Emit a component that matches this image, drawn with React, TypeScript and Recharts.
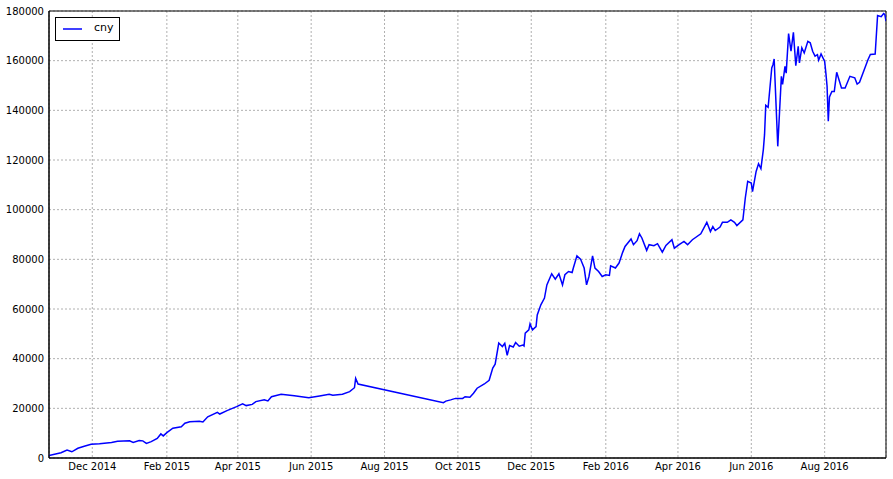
import React from 'react';
import { LineChart, Line, XAxis, YAxis, CartesianGrid, Legend, ReferenceArea } from 'recharts';

const dates = [
  '2014-10-26', '2014-11-05', '2014-11-10', '2014-11-14', '2014-11-19', '2014-11-25', '2014-11-30',
  '2014-12-07', '2014-12-17', '2014-12-22', '2015-01-01', '2015-01-04', '2015-01-09', '2015-01-12',
  '2015-01-15', '2015-01-19', '2015-01-24', '2015-01-27', '2015-01-29', '2015-02-01', '2015-02-06',
  '2015-02-13', '2015-02-16', '2015-02-20', '2015-02-28', '2015-03-03', '2015-03-07', '2015-03-15',
  '2015-03-17', '2015-03-23', '2015-03-31', '2015-04-05', '2015-04-08', '2015-04-13', '2015-04-16',
  '2015-04-23', '2015-04-26', '2015-04-29', '2015-05-07', '2015-05-18', '2015-05-30', '2015-06-08',
  '2015-06-16', '2015-06-19', '2015-06-27', '2015-07-03', '2015-07-07', '2015-07-08', '2015-07-10',
  '2015-09-19', '2015-09-21', '2015-09-25', '2015-09-29', '2015-10-05', '2015-10-07', '2015-10-11',
  '2015-10-14', '2015-10-17', '2015-10-23', '2015-10-27', '2015-10-30', '2015-11-01', '2015-11-04',
  '2015-11-07', '2015-11-09', '2015-11-11', '2015-11-13', '2015-11-16', '2015-11-18', '2015-11-21',
  '2015-11-24', '2015-11-25', '2015-11-26', '2015-11-29', '2015-11-30', '2015-12-02', '2015-12-05',
  '2015-12-06', '2015-12-09', '2015-12-12', '2015-12-14', '2015-12-18', '2015-12-21', '2015-12-24',
  '2015-12-27', '2015-12-29', '2016-01-01', '2016-01-04', '2016-01-05', '2016-01-08', '2016-01-11',
  '2016-01-14', '2016-01-16', '2016-01-18', '2016-01-21', '2016-01-23', '2016-01-26', '2016-01-29',
  '2016-02-01', '2016-02-04', '2016-02-05', '2016-02-09', '2016-02-12', '2016-02-15', '2016-02-17',
  '2016-02-22', '2016-02-24', '2016-02-27', '2016-02-29', '2016-03-02', '2016-03-06', '2016-03-08',
  '2016-03-12', '2016-03-15', '2016-03-19', '2016-03-22', '2016-03-27', '2016-03-29', '2016-04-02',
  '2016-04-06', '2016-04-09', '2016-04-13', '2016-04-20', '2016-04-25', '2016-04-28', '2016-04-30',
  '2016-05-02', '2016-05-06', '2016-05-08', '2016-05-12', '2016-05-15', '2016-05-18', '2016-05-20',
  '2016-05-25', '2016-05-27', '2016-05-29', '2016-06-01', '2016-06-02', '2016-06-05', '2016-06-07',
  '2016-06-09', '2016-06-11', '2016-06-12', '2016-06-13', '2016-06-15', '2016-06-18', '2016-06-19',
  '2016-06-20', '2016-06-23', '2016-06-26', '2016-06-27', '2016-06-29', '2016-06-30', '2016-07-02',
  '2016-07-04', '2016-07-06', '2016-07-08', '2016-07-10', '2016-07-11', '2016-07-13', '2016-07-15',
  '2016-07-18', '2016-07-20', '2016-07-22', '2016-07-24', '2016-07-26', '2016-07-27', '2016-07-29',
  '2016-08-01', '2016-08-02', '2016-08-03', '2016-08-04', '2016-08-05', '2016-08-07', '2016-08-09',
  '2016-08-11', '2016-08-15', '2016-08-18', '2016-08-22', '2016-08-26', '2016-08-28', '2016-08-30',
  '2016-09-06', '2016-09-08', '2016-09-12', '2016-09-14', '2016-09-17', '2016-09-19', '2016-09-20',
  '2016-09-21',
];

const cny = [
  1000, 2100, 3200, 2500, 3900, 4800, 5500,
  5700, 6200, 6700, 6900, 6300, 7000, 6900,
  5900, 6600, 7900, 9700, 8900, 10200, 12000,
  12600, 14000, 14600, 14800, 14500, 16600, 18400,
  17700, 19100, 20700, 21800, 21100, 21600, 22700,
  23400, 23000, 24700, 25700, 25100, 24300, 25000,
  25700, 25300, 25700, 26700, 28300, 32100, 29800,
  22300, 22900, 23400, 24000, 24000, 24700, 24500,
  26100, 28100, 29800, 31300, 36200, 37800, 46300,
  44900, 46200, 41300, 45300, 44700, 46500, 45000,
  45500, 45100, 50300, 51600, 54000, 51600, 52900,
  57600, 61700, 64400, 69700, 74200, 72000, 74200,
  69700, 73800, 75100, 74700, 76500, 81400, 80100,
  76500, 69700, 73100, 81400, 76500, 75100, 73100,
  73800, 73500, 77400, 76500, 78500, 82800, 85200,
  88200, 85900, 87500, 90300, 88600, 83600, 85900,
  85500, 86300, 82900, 85600, 87900, 84500, 85900,
  87200, 85900, 87900, 90300, 94900, 91200, 93200,
  91600, 93000, 94900, 94900, 95900, 94900, 93600,
  95900, 104700, 111400, 110700, 107300, 115400, 118500,
  116500, 124200, 130200, 142000, 141200, 157100, 158400,
  160700, 125500, 153700, 150400, 157700, 155000, 170900,
  163800, 171400, 158000, 165800, 159100, 165200, 163100,
  167800, 167200, 163800, 161800, 162400, 160200, 162700,
  159700, 155000, 149700, 135600, 145400, 147600, 147600,
  155300, 149000, 149000, 153700, 153100, 150600, 151300,
  160400, 162500, 162700, 178200, 177700, 179000, 178600,
  175900,
];

const yTicks = [0, 20000, 40000, 60000, 80000, 100000, 120000, 140000, 160000, 180000];
const xTickDates = [
  '2014-12-01', '2015-02-01', '2015-04-01', '2015-06-01', '2015-08-01', '2015-10-01',
  '2015-12-01', '2016-02-01', '2016-04-01', '2016-06-01', '2016-08-01',
];
const monthNames = ['Jan', 'Feb', 'Mar', 'Apr', 'May', 'Jun', 'Jul', 'Aug', 'Sep', 'Oct', 'Nov', 'Dec'];
const seriesName = 'cny';

const toTs = (s: string) => Date.parse(s + 'T00:00:00Z');
const data = dates.map((d, i) => ({ t: toTs(d), cny: cny[i] }));
const xTicks = xTickDates.map(toTs);
const xMin = toTs(dates[0]);
const xMax = toTs(dates[dates.length - 1]);
const fmtDate = (v: number) => {
  const d = new Date(v);
  return `${monthNames[d.getUTCMonth()]} ${d.getUTCFullYear()}`;
};

const FONT = '"DejaVu Sans", "Bitstream Vera Sans", sans-serif';

const LegendBox = () => (
  <div
    style={{
      width: 65,
      height: 24,
      border: '1px solid #000',
      background: '#fff',
      boxSizing: 'border-box',
      position: 'relative',
      fontFamily: FONT,
      fontSize: 11,
      color: '#000',
    }}
  >
    <svg width={20} height={4} style={{ position: 'absolute', left: 7, top: 9 }}>
      <line x1={0} y1={2} x2={19} y2={2} stroke="#0000ff" strokeWidth={1.5} />
    </svg>
    <span style={{ position: 'absolute', left: 38, top: 3, lineHeight: '14px' }}>{seriesName}</span>
  </div>
);

export default function App() {
  return (
    <div style={{ position: 'absolute', left: 0, top: 0, width: 893, height: 479, background: '#fff' }}>
      <LineChart width={893} height={479} data={data} margin={{ top: 11, right: 7, left: 0, bottom: 0 }}>
        <CartesianGrid stroke="#b0b0b0" strokeDasharray="2 2" />
        <XAxis
          dataKey="t"
          type="number"
          domain={[xMin, xMax]}
          ticks={xTicks}
          interval={0}
          tickFormatter={fmtDate}
          height={21}
          tickLine={false}
          tickSize={0}
          tickMargin={5}
          axisLine={{ stroke: '#000' }}
          tick={{ fill: '#000', fontSize: 10, fontFamily: FONT }}
          allowDataOverflow
        />
        <YAxis
          type="number"
          domain={[0, 180000]}
          ticks={yTicks}
          interval={0}
          width={49}
          tickLine={false}
          tickSize={0}
          tickMargin={5}
          axisLine={{ stroke: '#000' }}
          tick={{ fill: '#000', fontSize: 10, fontFamily: FONT }}
          allowDataOverflow
        />
        <ReferenceArea x1={xMin} x2={xMax} y1={0} y2={180000} fill="none" fillOpacity={0} stroke="#000" strokeWidth={1} />
        <Line
          type="linear"
          dataKey="cny"
          name={seriesName}
          stroke="#0000ff"
          strokeWidth={1.5}
          dot={false}
          activeDot={false}
          isAnimationActive={false}
        />
        <Legend
          layout="vertical"
          align="center"
          verticalAlign="middle"
          wrapperStyle={{ left: 55, top: 17, width: 65, height: 24 }}
          content={() => <LegendBox />}
        />
      </LineChart>
    </div>
  );
}
